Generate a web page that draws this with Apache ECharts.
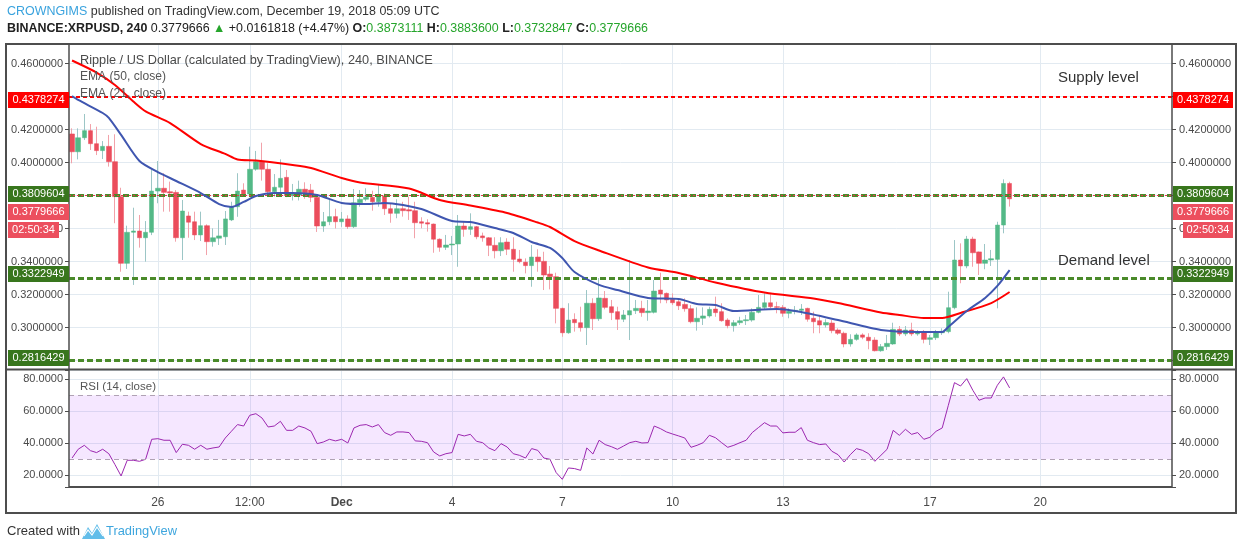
<!DOCTYPE html>
<html>
<head>
<meta charset="utf-8">
<title>XRPUSD 240</title>
<script src="https://cdn.jsdelivr.net/npm/echarts@6/dist/echarts.min.js"></script>
<style>
html,body{margin:0;padding:0;background:#fff;overflow:hidden;}
#chart{width:1242px;height:549px;}
</style>
</head>
<body>
<div id="chart"></div>
<script>
// ================= DATA =================
const firstBarUTC = Date.UTC(2018, 10, 23, 16, 0);   // first 4h bar shown
const slotCount = 180;                               // 4h slots on the time axis
const xTickCats = ['2018-11-26 00:00','2018-11-28 12:00','2018-12-01 00:00','2018-12-04 00:00',
  '2018-12-07 00:00','2018-12-10 00:00','2018-12-13 00:00','2018-12-17 00:00','2018-12-20 00:00'];
const xTickLabels = ['26','12:00','Dec','4','7','10','13','17','20'];

const opens = [0.4173,0.4065,0.4150,0.4193,0.4114,0.4072,0.4098,0.4005,0.3793,0.3389,
 0.3577,0.3585,0.3544,0.3577,0.3827,0.3844,0.3823,0.3819,0.3544,0.3676,
 0.3641,0.3561,0.3617,0.3520,0.3541,0.3550,0.3652,0.3732,0.3833,0.3809,
 0.3959,0.4005,0.3959,0.3823,0.3850,0.3910,0.3799,0.3803,0.3838,0.3833,
 0.3789,0.3615,0.3641,0.3672,0.3641,0.3658,0.3611,0.3756,0.3777,0.3789,
 0.3762,0.3797,0.3720,0.3692,0.3720,0.3714,0.3708,0.3641,0.3635,0.3627,
 0.3535,0.3486,0.3500,0.3506,0.3615,0.3595,0.3611,0.3555,0.3544,0.3498,
 0.3465,0.3518,0.3474,0.3415,0.3396,0.3375,0.3427,0.3401,0.3324,0.3308,
 0.3116,0.2968,0.3049,0.3029,0.2999,0.3147,0.3053,0.3177,0.3126,0.3096,
 0.3050,0.3076,0.3102,0.3116,0.3090,0.3092,0.3227,0.3207,0.3171,0.3156,
 0.3140,0.3114,0.3035,0.3056,0.3070,0.3112,0.3096,0.3045,0.3011,0.3029,
 0.3041,0.3045,0.3092,0.3122,0.3150,0.3126,0.3122,0.3086,0.3098,0.3104,
 0.3116,0.3056,0.3041,0.3015,0.3027,0.2985,0.2965,0.2900,0.2928,0.2955,
 0.2941,0.2924,0.2859,0.2884,0.2900,0.2989,0.2961,0.2985,0.2961,0.2970,
 0.2928,0.2938,0.2968,0.2975,0.3120,0.3409,0.3373,0.3536,0.3458,0.3389,
 0.3409,0.3413,0.3621,0.3873111];
const highs = [0.4207,0.4207,0.4294,0.4233,0.4217,0.4130,0.4167,0.4171,0.3847,0.3617,
 0.3726,0.3682,0.3645,0.3959,0.4009,0.3935,0.3884,0.3833,0.3773,0.3702,
 0.3702,0.3702,0.3625,0.3601,0.3652,0.3706,0.3762,0.3935,0.3874,0.4096,
 0.4070,0.4120,0.3995,0.3930,0.4019,0.3955,0.3870,0.3890,0.3880,0.3870,
 0.3800,0.3700,0.3773,0.3720,0.3700,0.3680,0.3839,0.3833,0.3844,0.3829,
 0.3870,0.3813,0.3753,0.3777,0.3762,0.3793,0.3762,0.3668,0.3656,0.3630,
 0.3540,0.3561,0.3555,0.3682,0.3641,0.3692,0.3615,0.3575,0.3548,0.3547,
 0.3547,0.3541,0.3547,0.3470,0.3419,0.3500,0.3474,0.3459,0.3373,0.3332,
 0.3120,0.3147,0.3086,0.3126,0.3227,0.3177,0.3300,0.3221,0.3167,0.3126,
 0.3106,0.3409,0.3167,0.3162,0.3167,0.3288,0.3332,0.3212,0.3207,0.3177,
 0.3177,0.3136,0.3122,0.3122,0.3126,0.3187,0.3147,0.3056,0.3045,0.3065,
 0.3076,0.3116,0.3197,0.3207,0.3211,0.3156,0.3136,0.3116,0.3130,0.3142,
 0.3120,0.3096,0.3076,0.3050,0.3045,0.2995,0.2975,0.2959,0.2965,0.2965,
 0.2965,0.2941,0.2900,0.2955,0.3029,0.3009,0.3009,0.3029,0.2985,0.2985,
 0.2955,0.2985,0.2995,0.3217,0.3530,0.3510,0.3555,0.3550,0.3460,0.3506,
 0.3470,0.3641,0.3898,0.38836];
const lows = [0.3995,0.4019,0.4136,0.4076,0.4045,0.4021,0.3975,0.3632,0.3338,0.3355,
 0.3258,0.3484,0.3399,0.3560,0.3753,0.3702,0.3702,0.3520,0.3409,0.3544,
 0.3530,0.3524,0.3439,0.3490,0.3500,0.3500,0.3645,0.3671,0.3797,0.3800,
 0.3950,0.3890,0.3803,0.3793,0.3813,0.3790,0.3770,0.3770,0.3780,0.3760,
 0.3579,0.3580,0.3620,0.3600,0.3610,0.3597,0.3603,0.3732,0.3765,0.3708,
 0.3732,0.3682,0.3635,0.3662,0.3672,0.3652,0.3541,0.3601,0.3581,0.3453,
 0.3459,0.3470,0.3439,0.3368,0.3550,0.3561,0.3535,0.3520,0.3433,0.3419,
 0.3433,0.3439,0.3338,0.3389,0.3328,0.3247,0.3338,0.3227,0.3231,0.3025,
 0.2944,0.2962,0.2975,0.2975,0.2894,0.2985,0.3040,0.3110,0.3045,0.2985,
 0.3033,0.2924,0.3082,0.3065,0.3041,0.3085,0.3147,0.3147,0.3136,0.3106,
 0.3096,0.3025,0.2981,0.3015,0.3060,0.3065,0.3035,0.2995,0.2975,0.3015,
 0.3015,0.3035,0.3086,0.3110,0.3116,0.3086,0.3065,0.3056,0.3080,0.3076,
 0.3035,0.2965,0.2965,0.3000,0.2965,0.2955,0.2880,0.2884,0.2920,0.2929,
 0.2868,0.2855,0.2853,0.2864,0.2895,0.2948,0.2948,0.2948,0.2950,0.2904,
 0.2894,0.2924,0.2955,0.2965,0.3110,0.3268,0.3359,0.3368,0.3318,0.3353,
 0.3373,0.3116,0.3571,0.3732847];
const closes = [0.4065,0.4150,0.4193,0.4114,0.4072,0.4098,0.4005,0.3793,0.3389,0.3577,
 0.3585,0.3544,0.3577,0.3827,0.3844,0.3819,0.3815,0.3544,0.3706,0.3638,
 0.3561,0.3617,0.3520,0.3544,0.3555,0.3658,0.3732,0.3827,0.3803,0.3959,
 0.4005,0.3959,0.3823,0.3850,0.3904,0.3799,0.3815,0.3838,0.3817,0.3789,
 0.3615,0.3641,0.3672,0.3641,0.3658,0.3611,0.3756,0.3777,0.3789,0.3762,
 0.3797,0.3720,0.3692,0.3720,0.3708,0.3706,0.3635,0.3632,0.3627,0.3535,
 0.3486,0.3500,0.3506,0.3615,0.3595,0.3611,0.3550,0.3544,0.3498,0.3465,
 0.3514,0.3474,0.3413,0.3399,0.3375,0.3427,0.3399,0.3318,0.3308,0.3116,
 0.2968,0.3045,0.3029,0.2999,0.3147,0.3053,0.3179,0.3122,0.3090,0.3050,
 0.3076,0.3102,0.3116,0.3090,0.3100,0.3221,0.3203,0.3167,0.3150,0.3132,
 0.3114,0.3035,0.3056,0.3070,0.3110,0.3090,0.3041,0.3011,0.3029,0.3041,
 0.3047,0.3092,0.3122,0.3150,0.3126,0.3122,0.3086,0.3098,0.3104,0.3112,
 0.3050,0.3035,0.3015,0.3030,0.2981,0.2965,0.2900,0.2928,0.2955,0.2941,
 0.2920,0.2859,0.2884,0.2904,0.2989,0.2961,0.2985,0.2961,0.2970,0.2928,
 0.2938,0.2968,0.2977,0.3120,0.3409,0.3373,0.3536,0.3453,0.3389,0.3409,
 0.3417,0.3621,0.3873,0.3779666];

// EMA readings: [bar index, value]
const ema50Points = [[0,0.4618],[4,0.4545],[7,0.4470],[10,0.4370],[12,0.4310],[16,0.4239],[21,0.4112],
 [25,0.4052],[27,0.4018],[30,0.4012],[36,0.3985],[39,0.3967],[44,0.3906],[47,0.3879],[55,0.3842],
 [60,0.3773],[65,0.3739],[71,0.3694],[76,0.3636],[78,0.3609],[82,0.3524],[86,0.3467],[94,0.3364],
 [99,0.3330],[105,0.3273],[113,0.3212],[121,0.3176],[125,0.3148],[132,0.3091],[135,0.3076],
 [139,0.3058],[142,0.3058],[145,0.3088],[150,0.3148],[153,0.3215]];
const ema21Points = [[0,0.4403],[1,0.4379],[5,0.4300],[6,0.4270],[8,0.4167],[11,0.4009],[14,0.3942],
 [17,0.3888],[21,0.3815],[24,0.3748],[26,0.3730],[28,0.3761],[30,0.3797],[33,0.3815],[36,0.3815],
 [40,0.3803],[44,0.3755],[48,0.3748],[51,0.3755],[57,0.3718],[62,0.3645],[65,0.3639],[69,0.3603],
 [72,0.3573],[75,0.3518],[78,0.3482],[80,0.3421],[82,0.3336],[86,0.3258],[89,0.3227],[94,0.3179],
 [99,0.3173],[102,0.3142],[105,0.3136],[108,0.3100],[115,0.3112],[119,0.3094],[125,0.3045],
 [132,0.2985],[138,0.2973],[142,0.2973],[143,0.3003],[146,0.3100],[149,0.3179],[151,0.3252],[153,0.3348]];

const rsiValues = [30.8,36.3,38.75,35.4,34.2,36.3,33.5,26.7,19.6,29.4,
 29.4,28.75,30,42.5,42.9,41.9,41.9,34.2,39.4,38.75,
 36.3,38.75,36.3,37.1,37.7,43.3,47.5,51.7,50.8,57.5,
 58.5,55.8,50.2,50.8,53.75,48.1,48.1,50.8,49.6,47.5,
 39.8,40.8,42.5,41.5,42.5,40.2,49.6,51.25,51.7,50.2,
 51.7,46.7,45,47.1,47.1,46.7,41.5,41.25,40.4,34.6,
 32.1,33.5,34.2,45.6,44.6,45.6,41.25,40.4,37.1,35.4,
 39.8,37.7,33.5,32.5,30.8,36.7,35.6,30.8,30,21.7,
 17.5,24.6,24.2,23.1,37.1,33.3,41.9,39.2,37.9,36.25,
 38.3,40.4,41.25,40.2,40.4,50.8,49.2,47.1,45.8,44.6,
 43.3,37.5,38.75,40.4,45,43.5,40.4,37.5,38.75,40.4,
 41.9,46.7,49.8,52.9,50.8,50.8,46.5,46.9,46.9,49.8,
 41.9,40.4,39.2,39.6,35,32.9,28.3,32.9,36.7,35.6,
 33.5,28.75,32.5,36.25,48.1,45,48.75,45.6,46.7,42.5,
 43.75,47.5,49.6,63.75,77.9,75.8,80.4,73.1,66.9,68.3,
 68.3,76.25,81.5,74.6];

const supplyLevel = 0.4378274;
const demandLevels = [0.3809604, 0.3322949, 0.2816429];
const lastPrice = 0.3779666;
const countdownText = '02:50:34';
const rsiBand = [30, 70];
const priceStep = 0.02;
const rsiStep = 20;
const priceRange = [0.274848, 0.471818];
const rsiRange = [12.7, 85.8];

// ================= STYLE =================
const FONT = '"Liberation Sans", Arial, sans-serif';
const AXIS_TXT = '#4a4a4a';
const GRID_CLR = '#e2eaf1';
const FRAME = '#4d4d4d';
const UP = '#53b987', DOWN = '#eb4d5c';
const UP_WICK = '#9cc6c6', DOWN_WICK = '#f2a2aa';
const LEVEL_GREEN = '#4a8a2a';
const BOX_GREEN = '#38761d';
const BOX_PINK = '#ec4f5e';

const pad = n => String(n).padStart(2, '0');
const categories = [];
for (let i = 0; i < slotCount; i++) {
  const d = new Date(firstBarUTC + i * 4 * 3600e3);
  categories.push(d.getUTCFullYear() + '-' + pad(d.getUTCMonth() + 1) + '-' + pad(d.getUTCDate()) + ' ' + pad(d.getUTCHours()) + ':00');
}
const isTickCat = (idx, val) => xTickCats.indexOf(val) >= 0;
const onStep = (v, s) => Math.abs(v / s - Math.round(v / s)) < 1e-6;

const wickData = opens.map((o, i) => [o, closes[i], lows[i], highs[i]]);
const bodyData = opens.map((o, i) => [o, closes[i], Math.min(o, closes[i]), Math.max(o, closes[i])]);

const chart = echarts.init(document.getElementById('chart'), null, {renderer: 'canvas', width: 1242, height: 549});

function xAxisCfg(grid, showLabels) {
  return {
    type: 'category', gridIndex: grid, data: categories, boundaryGap: true,
    axisLine: {show: false}, axisTick: {show: false},
    axisLabel: {
      show: showLabels, interval: isTickCat, margin: 10, color: AXIS_TXT, fontSize: 12, fontFamily: FONT,
      formatter: v => { const k = xTickCats.indexOf(v); const t = k >= 0 ? xTickLabels[k] : ''; return t === 'Dec' ? '{m|Dec}' : t; },
      rich: {m: {fontWeight: 'bold', color: AXIS_TXT, fontSize: 12, fontFamily: FONT}}
    },
    splitLine: {show: true, interval: isTickCat, alignWithLabel: true, lineStyle: {color: GRID_CLR, width: 1}}
  };
}
function yAxisCfg(grid, pos, range, step, dec, split) {
  return {
    type: 'value', gridIndex: grid, position: pos, min: range[0], max: range[1],
    minInterval: step, maxInterval: step, splitNumber: 10, scale: true,
    axisLine: {show: false},
    axisTick: {show: true, length: 4, lineStyle: {color: FRAME}},
    axisLabel: {show: true, margin: pos === 'left' ? 6 : 7, color: AXIS_TXT, fontSize: 11, fontFamily: FONT,
      formatter: v => onStep(v, step) ? v.toFixed(dec) : '', showMinLabel: true, showMaxLabel: true},
    splitLine: {show: split, lineStyle: {color: GRID_CLR, width: 1}}
  };
}

const option = {
  animation: false,
  backgroundColor: '#ffffff',
  textStyle: {fontFamily: FONT},
  grid: [
    {left: 69, right: 70, top: 44, height: 325, containLabel: false, outerBoundsMode: 'none'},
    {left: 69, right: 70, top: 370, height: 117, containLabel: false, outerBoundsMode: 'none'}
  ],
  xAxis: [xAxisCfg(0, false), xAxisCfg(1, true)],
  yAxis: [
    yAxisCfg(0, 'left', priceRange, priceStep, 7, true),
    yAxisCfg(0, 'right', priceRange, priceStep, 7, false),
    yAxisCfg(1, 'left', rsiRange, rsiStep, 4, true),
    yAxisCfg(1, 'right', rsiRange, rsiStep, 4, false)
  ],
  series: [
    {
      name: 'wicks', type: 'candlestick', xAxisIndex: 0, yAxisIndex: 0, barWidth: 1,
      data: wickData, silent: true,
      itemStyle: {color: UP_WICK, color0: DOWN_WICK, borderColor: UP_WICK, borderColor0: DOWN_WICK, borderWidth: 1},
      markLine: {
        silent: true, symbol: ['none', 'none'], label: {show: false},
        data: [
          {yAxis: supplyLevel, lineStyle: {color: '#ff0000', width: 2, type: [4, 3]}},
          ...demandLevels.map(v => ({yAxis: v, lineStyle: {color: LEVEL_GREEN, width: 3, type: [6, 3]}})),
          {yAxis: lastPrice, lineStyle: {color: '#e23b4b', width: 1, type: [2, 2]}}
        ]
      }
    },
    {
      name: 'bodies', type: 'candlestick', xAxisIndex: 0, yAxisIndex: 0, barWidth: 5,
      data: bodyData, silent: true,
      itemStyle: {color: UP, color0: DOWN, borderColor: UP, borderColor0: DOWN, borderWidth: 0.5}
    },
    {
      name: 'EMA 50', type: 'line', xAxisIndex: 0, yAxisIndex: 0, data: ema50Points,
      showSymbol: false, smooth: 0.25, silent: true, z: 5,
      lineStyle: {color: '#ff0000', width: 2}
    },
    {
      name: 'EMA 21', type: 'line', xAxisIndex: 0, yAxisIndex: 0, data: ema21Points,
      showSymbol: false, smooth: 0.25, silent: true, z: 5,
      lineStyle: {color: '#3f56b0', width: 2}
    },
    {
      name: 'RSI', type: 'line', xAxisIndex: 1, yAxisIndex: 2, data: rsiValues,
      showSymbol: false, silent: true,
      lineStyle: {color: '#9c27b0', width: 1},
      markArea: {silent: true, itemStyle: {color: 'rgba(153,21,255,0.1)'}, data: [[{yAxis: rsiBand[0]}, {yAxis: rsiBand[1]}]]},
      markLine: {silent: true, symbol: ['none', 'none'], label: {show: false},
        lineStyle: {color: '#b0a2b4', width: 1, type: [5, 4]},
        data: rsiBand.map(v => ({yAxis: v}))}
    }
  ]
};
chart.setOption(option);

// ---------- overlays (frame, price boxes, texts) ----------
const mctx = document.createElement('canvas').getContext('2d');
function fit(segs, target, base) {
  let w = 0;
  segs.forEach(s => { mctx.font = (s.b ? 'bold ' : '') + base + 'px ' + FONT; w += mctx.measureText(s.t).width; });
  return +(base * target / w).toFixed(2);
}
function ln(x1, y1, x2, y2, w, c) {
  return {type: 'line', z: 60, silent: true, shape: {x1, y1, x2, y2}, style: {stroke: c || FRAME, lineWidth: w}};
}
function txt(x, y, text, size, fill, extra) {
  return Object.assign({type: 'text', z: 70, silent: true, x, y,
    style: Object.assign({text, fill, fontSize: size, fontFamily: FONT, align: 'left', textAlign: 'left',
      verticalAlign: 'middle', textVerticalAlign: 'middle'}, extra || {})}, {});
}
function box(x, w, yc, text, color) {
  return [
    {type: 'rect', z: 65, silent: true, shape: {x, y: Math.round(yc) - 8, width: w, height: 16}, style: {fill: color}},
    txt(x + w / 2, Math.round(yc), text, 11, '#ffffff', {align: 'center', textAlign: 'center'})
  ];
}

const py = v => chart.convertToPixel({yAxisIndex: 0}, v);
const g = [];
// frame
g.push(ln(6, 44, 1236, 44, 2), ln(6, 513, 1236, 513, 2), ln(6, 43, 6, 514, 2), ln(1236, 43, 1236, 514, 2));
g.push(ln(69, 44, 69, 487, 1.5), ln(1172, 44, 1172, 487, 1.5));
g.push(ln(6, 369.5, 1236, 369.5, 2), ln(69, 487, 1172, 487, 2));

// price boxes
const LX = 8, LW = 61, RX = 1173, RW = 60;
const supY = py(supplyLevel);
g.push(...box(LX, LW, supY, supplyLevel.toFixed(7), '#ff0000'), ...box(RX, RW, supY, supplyLevel.toFixed(7), '#ff0000'));
demandLevels.forEach(v => {
  const y = py(v);
  g.push(...box(LX, LW, y, v.toFixed(7), BOX_GREEN), ...box(RX, RW, y, v.toFixed(7), BOX_GREEN));
});
const curY = py(demandLevels[0]) + 18;   // shifted below the overlapping level label
g.push(...box(LX, LW, curY, lastPrice.toFixed(7), BOX_PINK), ...box(RX, RW, curY, lastPrice.toFixed(7), BOX_PINK));
g.push(...box(LX, 51, curY + 18, countdownText, BOX_PINK), ...box(1183, 50, curY + 18, countdownText, BOX_PINK));

// level annotations
g.push(txt(1058, supY - 22, 'Supply level', 15, '#333333'));
g.push(txt(1058, py(demandLevels[1]) - 13, 'Demand level', 15, '#333333'));

// legends inside panes
const titleStr = 'Ripple / US Dollar (calculated by TradingView), 240, BINANCE';
g.push(txt(80, 60, titleStr, fit([{t: titleStr}], 353, 13), '#4a4a4a'));
const emaSize = fit([{t: 'EMA (50, close)'}], 86, 13);
g.push(txt(80, 77, 'EMA (50, close)', emaSize, '#555555'));
g.push(txt(80, 94, 'EMA (21, close)', emaSize, '#555555'));
g.push(txt(80, 387, 'RSI (14, close)', fit([{t: 'RSI (14, close)'}], 76, 13), '#555555'));

// header
const h1 = fit([{t: 'CROWNGIMS published on TradingView.com, December 19, 2018 05:09 UTC'}], 433, 13);
g.push(txt(7, 12, '{a|CROWNGIMS} published on TradingView.com, December 19, 2018 05:09 UTC', h1, '#333333',
  {rich: {a: {fill: '#3aa3de', fontSize: h1, fontFamily: FONT}}}));
const segs2 = [{t: 'BINANCE:XRPUSD, 240', b: 1}, {t: ' 0.3779666 '}, {t: '▲'}, {t: ' +0.0161818 (+4.47%) '},
  {t: 'O:', b: 1}, {t: '0.3873111 '}, {t: 'H:', b: 1}, {t: '0.3883600 '}, {t: 'L:', b: 1}, {t: '0.3732847 '},
  {t: 'C:', b: 1}, {t: '0.3779666'}];
const h2 = fit(segs2, 641, 13);
g.push(txt(7, 29, '{b|BINANCE:XRPUSD, 240} 0.3779666 {g|▲} +0.0161818 (+4.47%) {b|O:}{g|0.3873111} {b|H:}{g|0.3883600} {b|L:}{g|0.3732847} {b|C:}{g|0.3779666}',
  h2, '#222222', {rich: {
    b: {fontWeight: 'bold', fill: '#222222', fontSize: h2, fontFamily: FONT},
    g: {fill: '#26a52c', fontSize: h2, fontFamily: FONT}}}));

// footer
g.push(txt(7, 531, 'Created with', fit([{t: 'Created with'}], 73, 13), '#333333'));
g.push({type: 'polygon', z: 70, silent: true,
  shape: {points: [[82, 539], [88, 527], [92, 533], [97, 524], [105, 539]]},
  style: {fill: '#62bde9'}});
g.push({type: 'polyline', z: 71, silent: true,
  shape: {points: [[84, 536], [88, 530], [92, 535], [97, 527], [103, 536]]},
  style: {stroke: '#ffffff', lineWidth: 1.2, fill: null}});
g.push(txt(106, 531, 'TradingView', fit([{t: 'TradingView'}], 71, 13), '#3ea6de'));

chart.setOption({graphic: {elements: g}});
</script>
</body>
</html>
